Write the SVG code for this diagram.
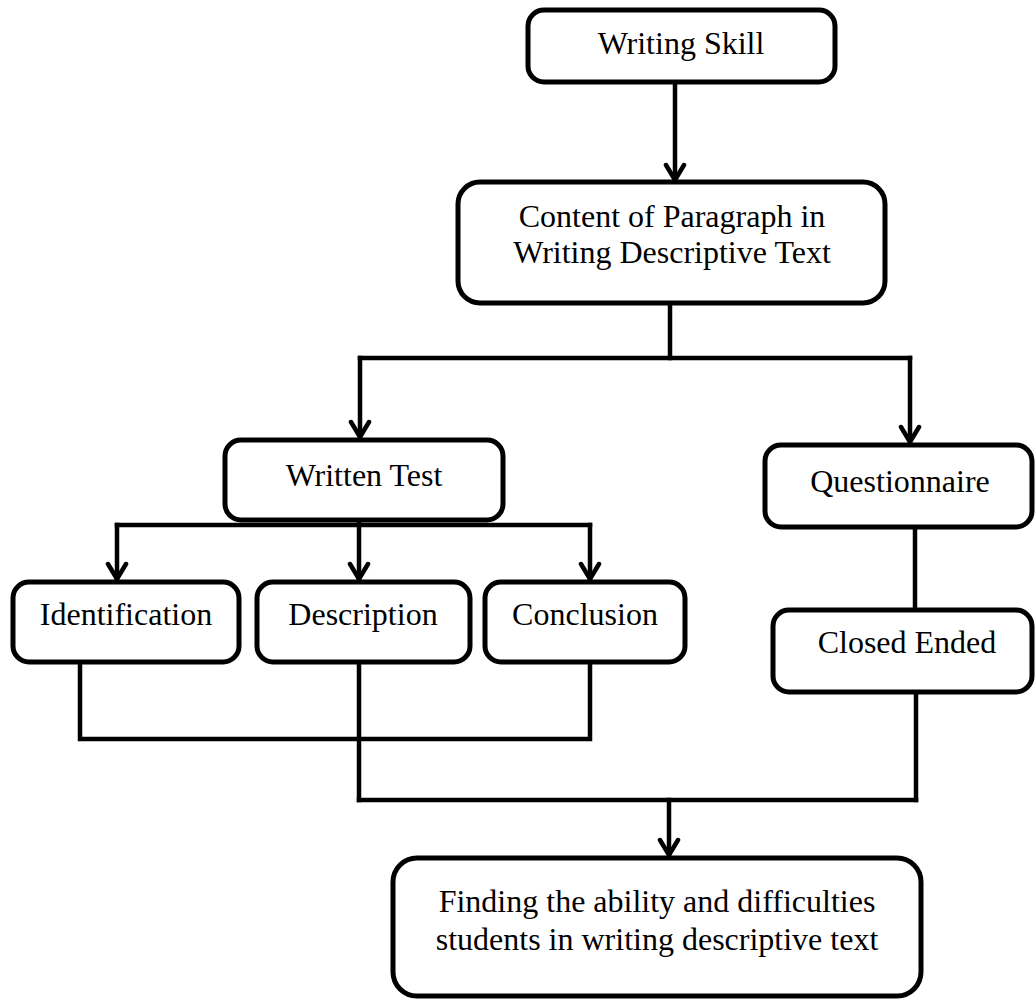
<svg xmlns="http://www.w3.org/2000/svg" width="1036" height="1000" viewBox="0 0 1036 1000">
<style>
.box{fill:#fff;stroke:#000;stroke-width:5}
.t{font-family:"Liberation Serif","Times New Roman",serif;font-size:32px;fill:#000;text-anchor:middle}
.c{fill:none;stroke:#000;stroke-width:4.5;stroke-linecap:square}
.a{marker-end:url(#arr)}
</style>
<defs>
<marker id="arr" markerUnits="userSpaceOnUse" viewBox="-20 -12 24 24" markerWidth="24" markerHeight="24" refX="0" refY="0" orient="auto">
<path d="M-15,-9 L0,0 L-15,9" fill="none" stroke="#000" stroke-width="4.5" stroke-linecap="round" stroke-linejoin="miter"/>
</marker>
</defs>
<rect width="1036" height="1000" fill="#fff"/>
<g id="connectors">
<path class="c a" d="M675,82 V180"/>
<path class="c" d="M670,303 V358"/>
<path class="c" d="M360,358 H910"/>
<path class="c a" d="M360,358 V437"/>
<path class="c a" d="M910,358 V442"/>
<path class="c" d="M117,525 H590"/>
<path class="c a" d="M117,525 V579"/>
<path class="c a" d="M359,520 V579"/>
<path class="c a" d="M590,525 V579"/>
<path class="c" d="M915,527 V610"/>
<path class="c" d="M80,662 V739 H590 V662"/>
<path class="c" d="M359,662 V800"/>
<path class="c" d="M916,692 V800"/>
<path class="c" d="M359,800 H916"/>
<path class="c a" d="M669,800 V855"/>
</g>
<g id="writing-skill">
<rect class="box" x="528" y="10" width="307" height="72" rx="16"/>
<text class="t" x="681" y="54">Writing Skill</text>
</g>
<g id="content">
<rect class="box" x="458" y="182" width="427" height="121" rx="22"/>
<text class="t" x="672" y="227">Content of Paragraph in</text>
<text class="t" x="672" y="263">Writing Descriptive Text</text>
</g>
<g id="written-test">
<rect class="box" x="225" y="440" width="278" height="80" rx="16"/>
<text class="t" x="364" y="486">Written Test</text>
</g>
<g id="questionnaire">
<rect class="box" x="765" y="445" width="267" height="82" rx="16"/>
<text class="t" x="900" y="492">Questionnaire</text>
</g>
<g id="identification">
<rect class="box" x="13" y="582" width="226" height="80" rx="16"/>
<text class="t" x="126" y="625">Identification</text>
</g>
<g id="description">
<rect class="box" x="257" y="582" width="213" height="80" rx="16"/>
<text class="t" x="363" y="625">Description</text>
</g>
<g id="conclusion">
<rect class="box" x="485" y="582" width="200" height="80" rx="16"/>
<text class="t" x="585" y="625">Conclusion</text>
</g>
<g id="closed-ended">
<rect class="box" x="773" y="610" width="259" height="82" rx="16"/>
<text class="t" x="907" y="653">Closed Ended</text>
</g>
<g id="finding">
<rect class="box" x="393" y="858" width="528" height="138" rx="24"/>
<text class="t" x="657" y="912">Finding the ability and difficulties</text>
<text class="t" x="657" y="950">students in writing descriptive text</text>
</g>
</svg>
